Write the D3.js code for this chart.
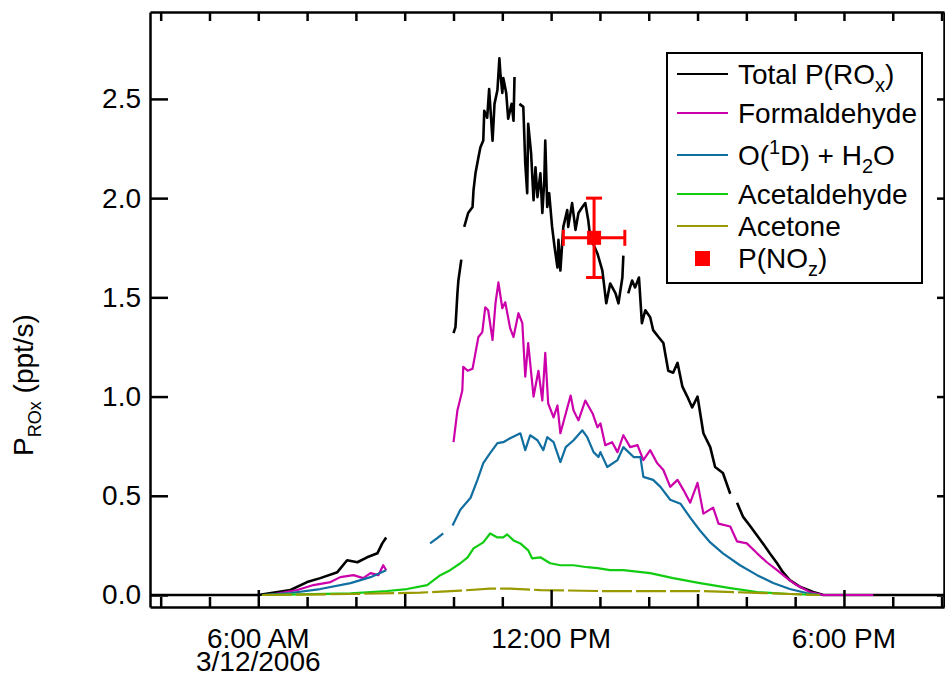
<!DOCTYPE html>
<html>
<head>
<meta charset="utf-8">
<script src="https://cdn.jsdelivr.net/npm/d3@7"></script>
<style>
  body { margin: 0; background: #fff; }
  text { font-family: "Liberation Sans", Arial, sans-serif; }
</style>
</head>
<body>
<script>
// times are decimal hours on 3/12/2006, null = gap in the record
var totalT = [3.78, 6.0, 6.66, 7.00, 7.27, 7.62, 7.82, 8.03, 8.23, 8.44, 8.54, 8.62, null,
  10.00, 10.04, 10.08, 10.10, 10.16, null,
  10.22, 10.30, 10.39, 10.41, 10.45, 10.51, 10.55, 10.61, 10.63, 10.69, 10.73, 10.80, 10.84, 10.90, 10.94, 10.96,
  11.00, 11.02, 11.08, 11.12, 11.19, 11.23, 11.25, null,
  11.35, 11.43, 11.47, 11.51, 11.53, 11.59, 11.64, 11.68, 11.72, 11.78, 11.82, 11.86, 11.88, 11.92, 11.96,
  12.02, 12.07, 12.13, 12.15, 12.19, 12.25, 12.33, 12.35, 12.43, 12.50, 12.56, 12.64, 12.70, 12.76, 12.80,
  12.95, 13.05, 13.13, 13.21, 13.32, 13.38, 13.46, 13.48, null,
  13.58, 13.66, 13.72, 13.80, 13.86, 13.93, 14.03, 14.09, 14.20, 14.30, 14.40, 14.50, 14.59, 14.69, 14.79,
  14.89, 15.00, 15.12, 15.26, 15.36, 15.52, 15.67, null,
  15.81, 15.93, 16.07, 16.22, 16.34, 16.48, 16.63, 16.75, 16.89, 17.11, 17.37, 17.58, 20.08];
var totalV = [0, 0, 0.025, 0.065, 0.085, 0.115, 0.175, 0.165, 0.19, 0.21, 0.26, 0.29, null,
  1.32, 1.35, 1.52, 1.585, 1.69, null,
  1.855, 1.925, 1.955, 2.04, 2.125, 2.205, 2.255, 2.29, 2.44, 2.405, 2.55, 2.29, 2.475, 2.545, 2.705, 2.63,
  2.53, 2.605, 2.53, 2.40, 2.475, 2.39, 2.61, null,
  2.475, 2.46, 2.175, 2.025, 2.375, 2.225, 1.99, 2.155, 2.005, 2.125, 1.925, 2.09, 2.29, 1.955, 2.025,
  1.855, 1.755, 1.65, 1.79, 1.635, 1.855, 1.94, 1.855, 1.975, 1.84, 1.925, 1.955, 1.975, 1.89, 1.805,
  1.72, 1.635, 1.47, 1.57, 1.52, 1.47, 1.60, 1.71, null,
  1.52, 1.585, 1.55, 1.60, 1.37, 1.435, 1.40, 1.335, 1.30, 1.27, 1.13, 1.12, 1.17, 1.05, 1.00,
  0.945, 1.00, 0.815, 0.745, 0.645, 0.615, 0.51, null,
  0.465, 0.395, 0.35, 0.30, 0.26, 0.21, 0.16, 0.115, 0.075, 0.04, 0.015, 0, 0];

var formT = [6.2, 6.45, 6.80, 7.13, 7.48, 7.68, 7.95, 8.15, 8.30, 8.46, 8.56, 8.62, null,
  10.00, 10.08, 10.18, 10.20, 10.29, 10.39, 10.45, 10.51, 10.59, 10.65, 10.71, 10.80, 10.86, 10.92,
  11.00, 11.06, 11.16, 11.23, 11.33, 11.41, 11.47, 11.53, 11.64, 11.74, 11.82, 11.88, 11.94,
  12.05, 12.13, 12.19, 12.30, 12.40, 12.46, 12.56, 12.70, 12.85, 12.95, 13.01, 13.11, 13.25, 13.36,
  13.48, 13.62, 13.77, 13.89, 14.03, 14.17, 14.30, 14.44, 14.59, 14.71, 14.85, 15.00, 15.12, 15.32,
  15.43, 15.67, 15.81, 16.01, 16.22, 16.42, 16.63, 16.83, 17.03, 17.30, 17.58, 18.6];
var formV = [0, 0.01, 0.025, 0.05, 0.065, 0.09, 0.10, 0.085, 0.11, 0.10, 0.15, 0.125, null,
  0.77, 0.93, 1.03, 1.15, 1.13, 1.14, 1.22, 1.30, 1.325, 1.45, 1.435, 1.285, 1.47, 1.575,
  1.445, 1.475, 1.345, 1.30, 1.42, 1.37, 1.10, 1.27, 1.00, 1.13, 0.98, 1.22, 0.965,
  0.895, 0.955, 0.815, 0.915, 1.005, 0.93, 0.88, 0.98, 0.915, 0.845, 0.865, 0.755, 0.77, 0.72,
  0.805, 0.745, 0.755, 0.68, 0.73, 0.665, 0.63, 0.545, 0.58, 0.53, 0.465, 0.565, 0.41, 0.44,
  0.36, 0.345, 0.27, 0.26, 0.21, 0.165, 0.125, 0.085, 0.05, 0.015, 0, 0];

var o1dT = [6.08, 6.66, 7.27, 7.89, 8.30, 8.62, null, 9.52, 9.66, 9.79, null,
  9.98, 10.14, 10.35, 10.49, 10.61, 10.75, 10.90, 11.02, 11.16, 11.37, 11.47, 11.57, 11.72, 11.84, 11.92,
  12.05, 12.19, 12.30, 12.46, 12.64, 12.74, 12.87, 12.97, 13.01, 13.15, 13.36, 13.48, 13.69, 13.83, 13.89,
  14.09, 14.24, 14.44, 14.65, 14.85, 15.05, 15.26, 15.52, 15.87, 16.22, 16.55, 16.89, 17.23, 17.50];
var o1dV = [0, 0.01, 0.03, 0.06, 0.09, 0.125, null, 0.26, 0.285, 0.31, null,
  0.35, 0.43, 0.49, 0.58, 0.665, 0.715, 0.765, 0.77, 0.79, 0.815, 0.73, 0.805, 0.78, 0.73, 0.795,
  0.77, 0.67, 0.745, 0.78, 0.83, 0.795, 0.72, 0.695, 0.72, 0.645, 0.68, 0.745, 0.695, 0.695, 0.595,
  0.58, 0.545, 0.48, 0.46, 0.39, 0.325, 0.265, 0.21, 0.15, 0.10, 0.06, 0.03, 0.01, 0];

var acetaldT = [6.08, 6.86, 7.89, 8.64, 9.05, 9.46, 9.73, 9.93, 10.14, 10.29, 10.41, 10.61, 10.75, 10.90,
  11.02, 11.10, 11.23, 11.37, 11.53, 11.61, 11.78, 11.98, 12.19, 12.46, 12.74, 12.95, 13.21, 13.48,
  14.03, 14.50, 15.05, 15.67, 16.22, 16.89, 17.50];
var acetaldV = [0, 0.003, 0.008, 0.02, 0.03, 0.05, 0.10, 0.125, 0.16, 0.19, 0.235, 0.265, 0.31, 0.29,
  0.29, 0.305, 0.275, 0.26, 0.225, 0.185, 0.19, 0.16, 0.15, 0.15, 0.14, 0.135, 0.125, 0.125,
  0.11, 0.085, 0.06, 0.035, 0.015, 0.005, 0];

var acetoneT = [6.08, 7.89, 9.32, 10.14, 10.75, 11.16, 11.78, 13.01, 14.03, 15.05, 16.07, 16.89, 17.50];
var acetoneV = [0, 0.005, 0.012, 0.022, 0.032, 0.032, 0.025, 0.02, 0.02, 0.02, 0.012, 0.005, 0];

// P(NOz) point with error bars
var nozT = [12.88];
var nozV = [1.80];
var nozErrT = [0.63];
var nozErrV = [0.20];

var yTicks = [0, 0.5, 1.0, 1.5, 2.0, 2.5];
var xLabels = [[6, "6:00 AM", "3/12/2006"], [12, "12:00 PM"], [18, "6:00 PM"]];

var W = 945, H = 676;
var mLeft = 150, mRight = 944, mTop = 12, mBottom = 607;
var fs = 28;

var toDate = function(h) {
  return new Date(2006, 2, 12, 0, 0, Math.round(h * 3600));
};

var svg = d3.select("body").append("svg")
    .attr("width", W)
    .attr("height", H);

var x = d3.scaleTime()
    .domain([toDate(3.781), toDate(20.05)])
    .range([mLeft, mRight]);

var y = d3.scaleLinear()
    .domain([-0.0605, 2.938])
    .range([mBottom, mTop]);

var pack = function(T, V) {
  return T.map(function(t, i) { return {t: t, v: V[i]}; });
};

var line = d3.line()
    .defined(function(d) { return d.v !== null; })
    .x(function(d) { return x(toDate(d.t)); })
    .y(function(d) { return y(d.v); });

var series = [
  {name: "total", data: pack(totalT, totalV), color: "#000000", w: 2.6},
  {name: "form", data: pack(formT, formV), color: "#cc00aa", w: 2.2},
  {name: "o1d", data: pack(o1dT, o1dV), color: "#106ea0", w: 2.2},
  {name: "acetald", data: pack(acetaldT, acetaldV), color: "#11cc11", w: 2.2},
  {name: "acetone", data: pack(acetoneT, acetoneV), color: "#999900", w: 2.2, dash: "30,4"}
];

var plot = svg.append("g");

series.forEach(function(s) {
  plot.append("path")
      .datum(s.data)
      .attr("fill", "none")
      .attr("stroke", s.color)
      .attr("stroke-width", s.w)
      .attr("stroke-linejoin", "round")
      .attr("stroke-dasharray", s.dash || null)
      .attr("d", line);
});

// error bars + marker
var red = "#ff0000";
nozT.forEach(function(t, i) {
  var cx = x(toDate(t)), cy = y(nozV[i]);
  var x0 = x(toDate(t - nozErrT[i])), x1 = x(toDate(t + nozErrT[i]));
  var y0 = y(nozV[i] - nozErrV[i]), y1 = y(nozV[i] + nozErrV[i]);
  var g = plot.append("g").attr("stroke", red).attr("stroke-width", 3);
  g.append("line").attr("x1", x0).attr("x2", x1).attr("y1", cy).attr("y2", cy);
  g.append("line").attr("x1", x0).attr("x2", x0).attr("y1", cy - 8).attr("y2", cy + 8);
  g.append("line").attr("x1", x1).attr("x2", x1).attr("y1", cy - 8).attr("y2", cy + 8);
  g.append("line").attr("x1", cx).attr("x2", cx).attr("y1", y0).attr("y2", y1);
  g.append("line").attr("x1", cx - 8).attr("x2", cx + 8).attr("y1", y0).attr("y2", y0);
  g.append("line").attr("x1", cx - 8).attr("x2", cx + 8).attr("y1", y1).attr("y2", y1);
  plot.append("rect")
      .attr("x", cx - 7).attr("y", cy - 7)
      .attr("width", 14).attr("height", 14)
      .attr("fill", red);
});

// axes
var tickLen = function(d) {
  var h = d.getHours();
  if (h % 6 === 0) return 17;
  if (h % 3 === 0) return 13;
  return 10;
};

var xAxis = svg.append("g")
    .attr("transform", "translate(0," + mBottom + ")")
    .call(d3.axisBottom(x).ticks(d3.timeHour.every(1)).tickSizeOuter(0).tickFormat(""));
xAxis.selectAll(".tick line")
    .attr("y2", function(d) { return -tickLen(d); });

var xTop = svg.append("g")
    .attr("transform", "translate(0," + mTop + ")")
    .call(d3.axisTop(x).ticks(d3.timeHour.every(1)).tickSizeOuter(0).tickFormat(""));
xTop.selectAll(".tick line").attr("y2", 9);

var yAxis = svg.append("g")
    .attr("transform", "translate(" + mLeft + ",0)")
    .call(d3.axisLeft(y).tickValues(yTicks).tickSizeInner(-18).tickSizeOuter(0)
      .tickPadding(9).tickFormat(d3.format(".1f")));

var yRight = svg.append("g")
    .attr("transform", "translate(" + mRight + ",0)")
    .call(d3.axisRight(y).tickValues(yTicks).tickSizeInner(-7).tickSizeOuter(0).tickFormat(""));

svg.selectAll(".domain, .tick line")
    .attr("stroke", "#000")
    .attr("stroke-width", 2.5);

yAxis.selectAll("text")
    .attr("font-size", fs)
    .attr("fill", "#000")
    .attr("font-family", "Liberation Sans, Arial, sans-serif");

// x labels
xLabels.forEach(function(l) {
  svg.append("text")
      .attr("x", x(toDate(l[0])))
      .attr("y", 648)
      .attr("text-anchor", "middle")
      .attr("font-size", fs)
      .text(l[1]);
  if (l[2]) {
    svg.append("text")
        .attr("x", x(toDate(l[0])))
        .attr("y", 671)
        .attr("text-anchor", "middle")
        .attr("font-size", fs)
        .text(l[2]);
  }
});

// y title
var yt = svg.append("text")
    .attr("transform", "translate(33,385) rotate(-90)")
    .attr("text-anchor", "middle")
    .attr("font-size", fs);
yt.append("tspan").text("P");
yt.append("tspan").attr("font-size", 18).attr("dy", 8).text("ROx");
yt.append("tspan").attr("dy", -8).text(" (ppt/s)");

// legend
var lg = svg.append("g");
lg.append("rect")
    .attr("x", 667).attr("y", 53)
    .attr("width", 255).attr("height", 230)
    .attr("fill", "#fff")
    .attr("stroke", "#000")
    .attr("stroke-width", 2);

var legendRows = [
  {y: 74, color: "#000000", parts: [["Total P(RO"], ["x", "sub"], [")"]]},
  {y: 113, color: "#cc00aa", parts: [["Formaldehyde"]]},
  {y: 155, color: "#106ea0", parts: [["O("], ["1", "sup"], ["D) + H"], ["2", "sub"], ["O"]]},
  {y: 194, color: "#11cc11", parts: [["Acetaldehyde"]]},
  {y: 226, color: "#999900", parts: [["Acetone"]]},
  {y: 258, color: red, marker: true, parts: [["P(NO"], ["z", "sub"], [")"]]}
];

legendRows.forEach(function(r) {
  if (r.marker) {
    lg.append("rect").attr("x", 695).attr("y", r.y - 7).attr("width", 15).attr("height", 15).attr("fill", r.color);
  } else {
    lg.append("line").attr("x1", 677).attr("x2", 728).attr("y1", r.y).attr("y2", r.y)
        .attr("stroke", r.color).attr("stroke-width", 2.2);
  }
  var t = lg.append("text").attr("x", 738).attr("y", r.y + 10).attr("font-size", fs);
  var shift = 0;
  r.parts.forEach(function(p) {
    var dy = 0, f = fs;
    if (p[1] === "sub") { dy = 8 - shift; shift = 8; f = 20; }
    else if (p[1] === "sup") { dy = -11 - shift; shift = -11; f = 20; }
    else { dy = -shift; shift = 0; }
    t.append("tspan").attr("dy", dy).attr("font-size", f).text(p[0]);
  });
});
</script>
</body>
</html>
